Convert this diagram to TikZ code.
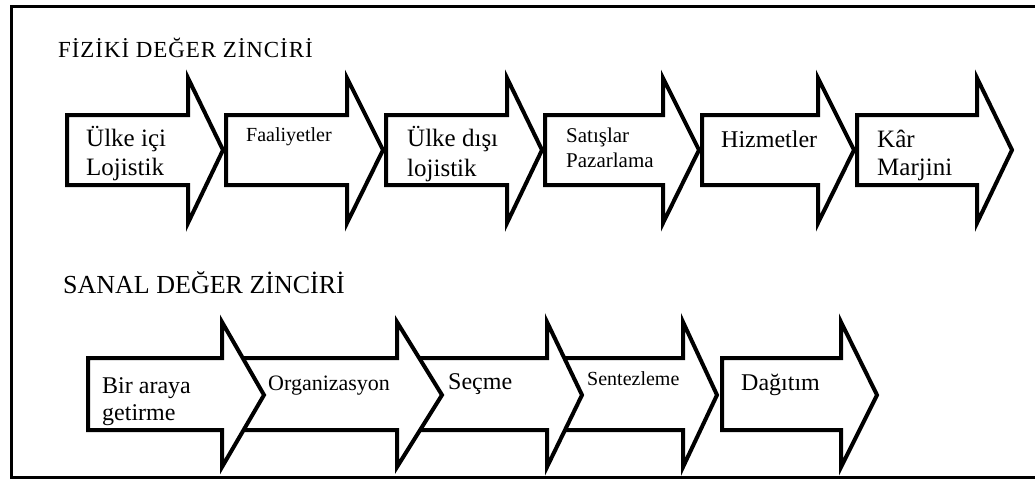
\documentclass[tikz,border=0pt]{standalone}
\usepackage{fontspec}
\setmainfont{Liberation Serif}

% one block arrow: #1 body left, #2 head start, #3 tip,
% #4 body top, #5 body bottom, #6 head top, #7 head bottom, #8 tip height
\newcommand\valuearrow[8]{%
  \draw[chainarrow] (#1,#4) -- (#2,#4) -- (#2,#6) -- (#3,#8)
    -- (#2,#7) -- (#2,#5) -- (#1,#5) -- cycle;}

\tikzset{
  chainarrow/.style={draw=black, line width=4pt, fill=white, line join=miter},
  frame/.style={draw=black, line width=3pt},
  lbl/.style={anchor=base west, inner sep=0pt, font=\fontsize{#1}{#1}\selectfont},
}

\begin{document}
\begin{tikzpicture}[x=1pt, y=-1pt]
\useasboundingbox (0,0) rectangle (1035,480);

% outer frame (open on the right)
\draw[frame] (1035,6) -- (11,6) -- (11,477) -- (1035,477);

% physical value chain
\node[lbl=23] (t1) at (58,57) {\addfontfeature{LetterSpace=4}FİZİKİ DEĞER ZİNCİRİ};
\valuearrow{857}{977}{1012}{115}{185}{78}{223}{150}
\valuearrow{702}{818}{854}{115}{185}{78}{223}{150}
\valuearrow{545}{663}{699}{115}{185}{78}{223}{150}
\valuearrow{386}{507}{542}{115}{185}{78}{223}{150}
\valuearrow{226}{347}{383}{115}{185}{78}{223}{150}
\valuearrow{67}{188}{223}{115}{185}{78}{223}{150}

\node[lbl=25] (p1a) at (86,146) {Ülke içi};
\node[lbl=25] (p1b) at (86,175) {Lojistik};
\node[lbl=20] (p2) at (246,141) {Faaliyetler};
\node[lbl=25] (p3a) at (407,146) {Ülke dışı};
\node[lbl=25] (p3b) at (407,176) {lojistik};
\node[lbl=21] (p4a) at (566,142) {Satışlar};
\node[lbl=21] (p4b) at (566,167) {Pazarlama};
\node[lbl=24] (p5) at (721,147) {Hizmetler};
\node[lbl=25] (p6a) at (877,147) {Kâr};
\node[lbl=25] (p6b) at (877,175) {Marjini};

% virtual value chain
\node[lbl=26] (t2) at (63,293) {SANAL DEĞER ZİNCİRİ};
\valuearrow{722}{841}{877}{358}{430}{322}{467}{395}
\valuearrow{555}{683}{717}{358}{430}{322}{467}{395}
\valuearrow{405}{547}{582}{358}{430}{322}{467}{395}
\valuearrow{230}{397}{442}{358}{430}{322}{467}{395}
\valuearrow{88}{222}{264}{358}{430}{322}{467}{395}

\node[lbl=24] (v1a) at (102,393) {Bir araya};
\node[lbl=24] (v1b) at (102,420) {getirme};
\node[lbl=22] (v2) at (268,390) {Organizasyon};
\node[lbl=24] (v3) at (448,389) {Seçme};
\node[lbl=20] (v4) at (587,385) {Sentezleme};
\node[lbl=24] (v5) at (741,390) {Dağıtım};
\end{tikzpicture}
\end{document}
